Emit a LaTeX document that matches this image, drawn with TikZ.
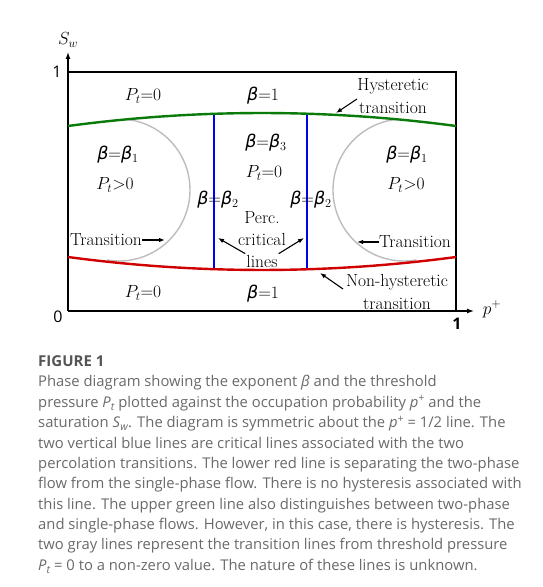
\RequirePackage{fix-cm}
\documentclass[tikz,border=0pt]{standalone}
\usepackage{fontspec}
\newfontfamily\capfont{Open Sans}
\newfontfamily\gfont{DejaVu Sans}
\usetikzlibrary{arrows.meta}
\definecolor{capgray}{HTML}{6A6A6A}
\definecolor{titgray}{HTML}{555555}
\definecolor{hgreen}{HTML}{0A7A0A}
\definecolor{hred}{HTML}{D00000}
\definecolor{hblue}{HTML}{0000F0}
\definecolor{arcgray}{HTML}{BDBDBD}
\newcommand{\bB}{{\gfont\itshape β}}
\newcommand{\capsub}[1]{\raisebox{-3pt}{\fontsize{10.5}{10}\selectfont #1}}
\newcommand{\capsup}[1]{\raisebox{5.5pt}{\fontsize{10.5}{10}\selectfont #1}}
\begin{document}
\begin{tikzpicture}[x=1pt,y=1pt,
  lbl/.style={font=\fontsize{17.5}{20}\selectfont, inner sep=0pt},
  ax/.style={font=\capfont\fontsize{16}{19}\selectfont, inner sep=0pt},
  arr/.style={-{Latex[length=6pt,width=4.5pt]}, line width=1.1pt},
  axarr/.style={-{Latex[length=7pt,width=5pt]}, line width=1.3pt},
  capl/.style={anchor=base west, inner sep=0pt, text=capgray, font=\capfont\fontsize{14.8}{17}\selectfont}]
\useasboundingbox (0,0) rectangle (543,587);
\fill[white] (0,0) rectangle (543,587);

% gray transition arcs, clipped between the curves
\begin{scope}
\clip (68,461) .. controls (197.3,478.3) and (326.7,478.3) .. (456,461) -- (456,330) .. controls (326.7,312.7) and (197.3,312.7) .. (68,330) -- cycle;
\draw[arcgray, line width=1.4pt] (119,397) ++(100:71) arc[start angle=100, end angle=-100, radius=71];
\draw[arcgray, line width=1.4pt] (404,397) ++(80:71) arc[start angle=80, end angle=280, radius=71];
\end{scope}

% frame and axes
\coordinate (O) at (68,276);
\coordinate (ytip) at (68,535);
\coordinate (xtip) at (474,276);
\draw[axarr] (O) -- (ytip);
\draw[axarr] (O) -- (xtip);
\draw[line width=1.3pt] (68,515) -- (456,515) -- (456,276);

% blue critical lines
\draw[hblue, line width=2pt] (214,317.8) -- (214,473.2);
\draw[hblue, line width=2pt] (307,317.7) -- (307,473.3);

% green and red curves
\draw[hgreen, line width=2.4pt] (68,461) .. controls (197.3,478.3) and (326.7,478.3) .. (456,461);
\draw[hred, line width=2.4pt] (68,330) .. controls (197.3,312.7) and (326.7,312.7) .. (456,330);

% axis labels
\node[lbl] (sw) at (68,547) {$S_w$};
\node[ax] (one) at (57,515) {1};
\node[ax] (zero) at (58,270) {0};
\node[ax, font=\capfont\bfseries\fontsize{16}{19}\selectfont] (onex) at (457,263) {1};
\node[lbl] (pp) at (492,278) {$p^+$};

% region labels
\node[lbl] (ptA) at (143,491) {$P_t{=}0$};
\node[lbl] (b1A) at (263,491) {\bB$=$1};
\node[lbl] (hy1) at (393,501) {Hysteretic};
\node[lbl] (hy2) at (393,479) {transition};
\coordinate (hytail) at (357,488);
\coordinate (hytip) at (336,474);
\draw[arr] (hytail) -- (hytip);

\node[lbl] (bL) at (118,432) {\bB$=$\bB$_1$};
\node[lbl] (pL) at (115,402) {$P_t{>}0$};
\node[lbl] (bR) at (407,432) {\bB$=$\bB$_1$};
\node[lbl] (pR) at (406,402) {$P_t{>}0$};

\node[lbl] (b3) at (266,444) {\bB$=$\bB$_3$};
\node[lbl] (pM) at (264,414) {$P_t{=}0$};

\node[lbl] (b2L) at (218,387) {\bB$=$\bB$_2$};
\node[lbl] (b2R) at (311,387) {\bB$=$\bB$_2$};

\node[lbl] (perc) at (262,369) {Perc.};
\node[lbl] (crit) at (262,347) {critical};
\node[lbl] (lines) at (262,326) {lines};
\coordinate (cLt) at (218,349);
\coordinate (cRt) at (304,349);
\draw[arr] (lines.north west) ++(-1,1) -- (cLt);
\draw[arr] (lines.north east) ++(1,1) -- (cRt);

\node[lbl] (trL) at (106,347) {Transition};
\coordinate (trLt) at (165,347);
\draw[arr] (trL.east) -- (trLt);
\node[lbl] (trR) at (415,345) {Transition};
\coordinate (trRt) at (357,345);
\draw[arr] (trR.west) -- (trRt);

\node[lbl] (nh1) at (397,305) {Non-hysteretic};
\node[lbl] (nh2) at (397,283) {transition};
\coordinate (nhtail) at (343,298);
\coordinate (nhtip) at (320,314);
\draw[arr] (nhtail) -- (nhtip);

\node[lbl] (ptB) at (143,294) {$P_t{=}0$};
\node[lbl] (b1B) at (263,293) {\bB$=$1};

% caption
\node[anchor=base west, inner sep=0pt, text=titgray, font=\capfont\bfseries\fontsize{15}{18}\selectfont] (fig) at (38,220) {FIGURE 1};
\node[capl] (c1) at (38,200) {Phase diagram showing the exponent \textit{β} and the threshold};
\node[capl] (c2) at (38,179.65) {pressure \textit{P}\capsub{\textit{t}} plotted against the occupation probability \textit{p}\capsup{+} and the};
\node[capl] (c3) at (38,159.3) {saturation \textit{S}\capsub{\textit{w}}. The diagram is symmetric about the \textit{p}\capsup{+} = 1/2 line. The};
\node[capl] (c4) at (38,138.95) {two vertical blue lines are critical lines associated with the two};
\node[capl] (c5) at (38,118.6) {percolation transitions. The lower red line is separating the two-phase};
\node[capl] (c6) at (38,98.25) {flow from the single-phase flow. There is no hysteresis associated with};
\node[capl] (c7) at (38,77.9) {this line. The upper green line also distinguishes between two-phase};
\node[capl] (c8) at (38,57.55) {and single-phase flows. However, in this case, there is hysteresis. The};
\node[capl] (c9) at (38,37.2) {two gray lines represent the transition lines from threshold pressure};
\node[capl] (c10) at (38,16.85) {\textit{P}\capsub{\textit{t}} = 0 to a non-zero value. The nature of these lines is unknown.};
\end{tikzpicture}
\end{document}
